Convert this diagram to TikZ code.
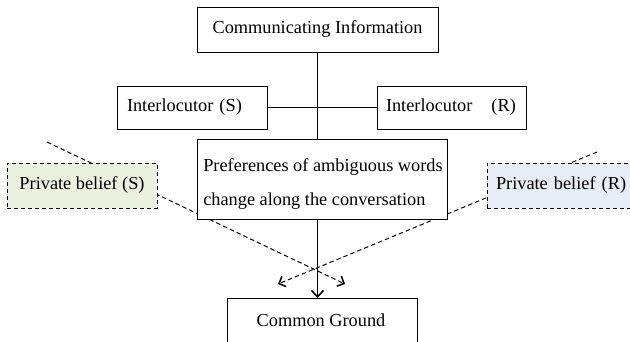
\documentclass[tikz,border=0pt]{standalone}
\usepackage{fontspec}
\setmainfont{Liberation Serif}
\usetikzlibrary{arrows.meta}
\definecolor{pbgreen}{RGB}{235,241,222}
\definecolor{pbblue}{RGB}{230,237,245}
\tikzset{
  boxn/.style={draw=black, line width=1pt, fill=white, inner sep=0pt, font=\fontsize{18.3}{22}\selectfont},
  beliefbox/.style={boxn, dash pattern=on 4pt off 3pt, line width=0.9pt},
  link/.style={draw=black, line width=1pt},
  dashlink/.style={draw=black, line width=1pt, dash pattern=on 4.5pt off 3pt, -{Straight Barb[length=5.5pt,width=11pt,line width=1.5pt]}},
  mainarrow/.style={link, -{Straight Barb[length=6.5pt,width=12pt,line width=1.5pt]}}
}
\begin{document}
\begin{tikzpicture}[x=1pt,y=-1pt]
\useasboundingbox (0,0) rectangle (630,341);
% dashed crossing connectors
\coordinate (sS) at (47,142);
\coordinate (eS) at (345,284);
\coordinate (sR) at (597,152);
\coordinate (eR) at (278,284);
\draw[dashlink] (sS) -- (eS);
\draw[dashlink] (sR) -- (eR);
% boxes
\node[boxn, minimum width=241pt, minimum height=45pt] (comm) at (317.5,29.5) {Communicating Information};
\node[boxn, minimum width=150pt, minimum height=43pt, text width=130pt, inner xsep=10pt, align=left] (intS) at (192,107.5) {Interlocutor (S)};
\node[boxn, minimum width=149pt, minimum height=43pt, text width=131pt, inner xsep=9pt, align=left] (intR) at (451.5,107.5) {Interlocutor\hspace{13pt} (R)};
\node[boxn, minimum width=250pt, minimum height=80pt] (pref) at (322,179) {};
\node[align=left, inner sep=0pt, font=\fontsize{18.3}{34}\selectfont] (preftext) at (323,184) {Preferences of ambiguous words\\change along the conversation};
\node[beliefbox, fill=pbgreen, minimum width=150pt, minimum height=45pt] (pbS) at (82,185.5) {Private belief (S)};
\node[beliefbox, fill=pbblue, minimum width=153pt, minimum height=45pt, text width=135pt, inner xsep=9pt, align=left] (pbR) at (563.5,185.5) {Private belief (R)};
\node[boxn, minimum width=190pt, minimum height=62pt, anchor=north] (cgbox) at (322,298) {};
\node[font=\fontsize{18.3}{22}\selectfont, inner sep=0pt] (cg) at (321,320) {Common Ground};
% solid connectors
\draw[link] (comm.south) -- (comm.south |- pref.north);
\draw[link] (intS.east) -- (intR.west);
\draw[mainarrow] (comm.south |- pref.south) -- (comm.south |- cgbox.north);
\end{tikzpicture}
\end{document}
